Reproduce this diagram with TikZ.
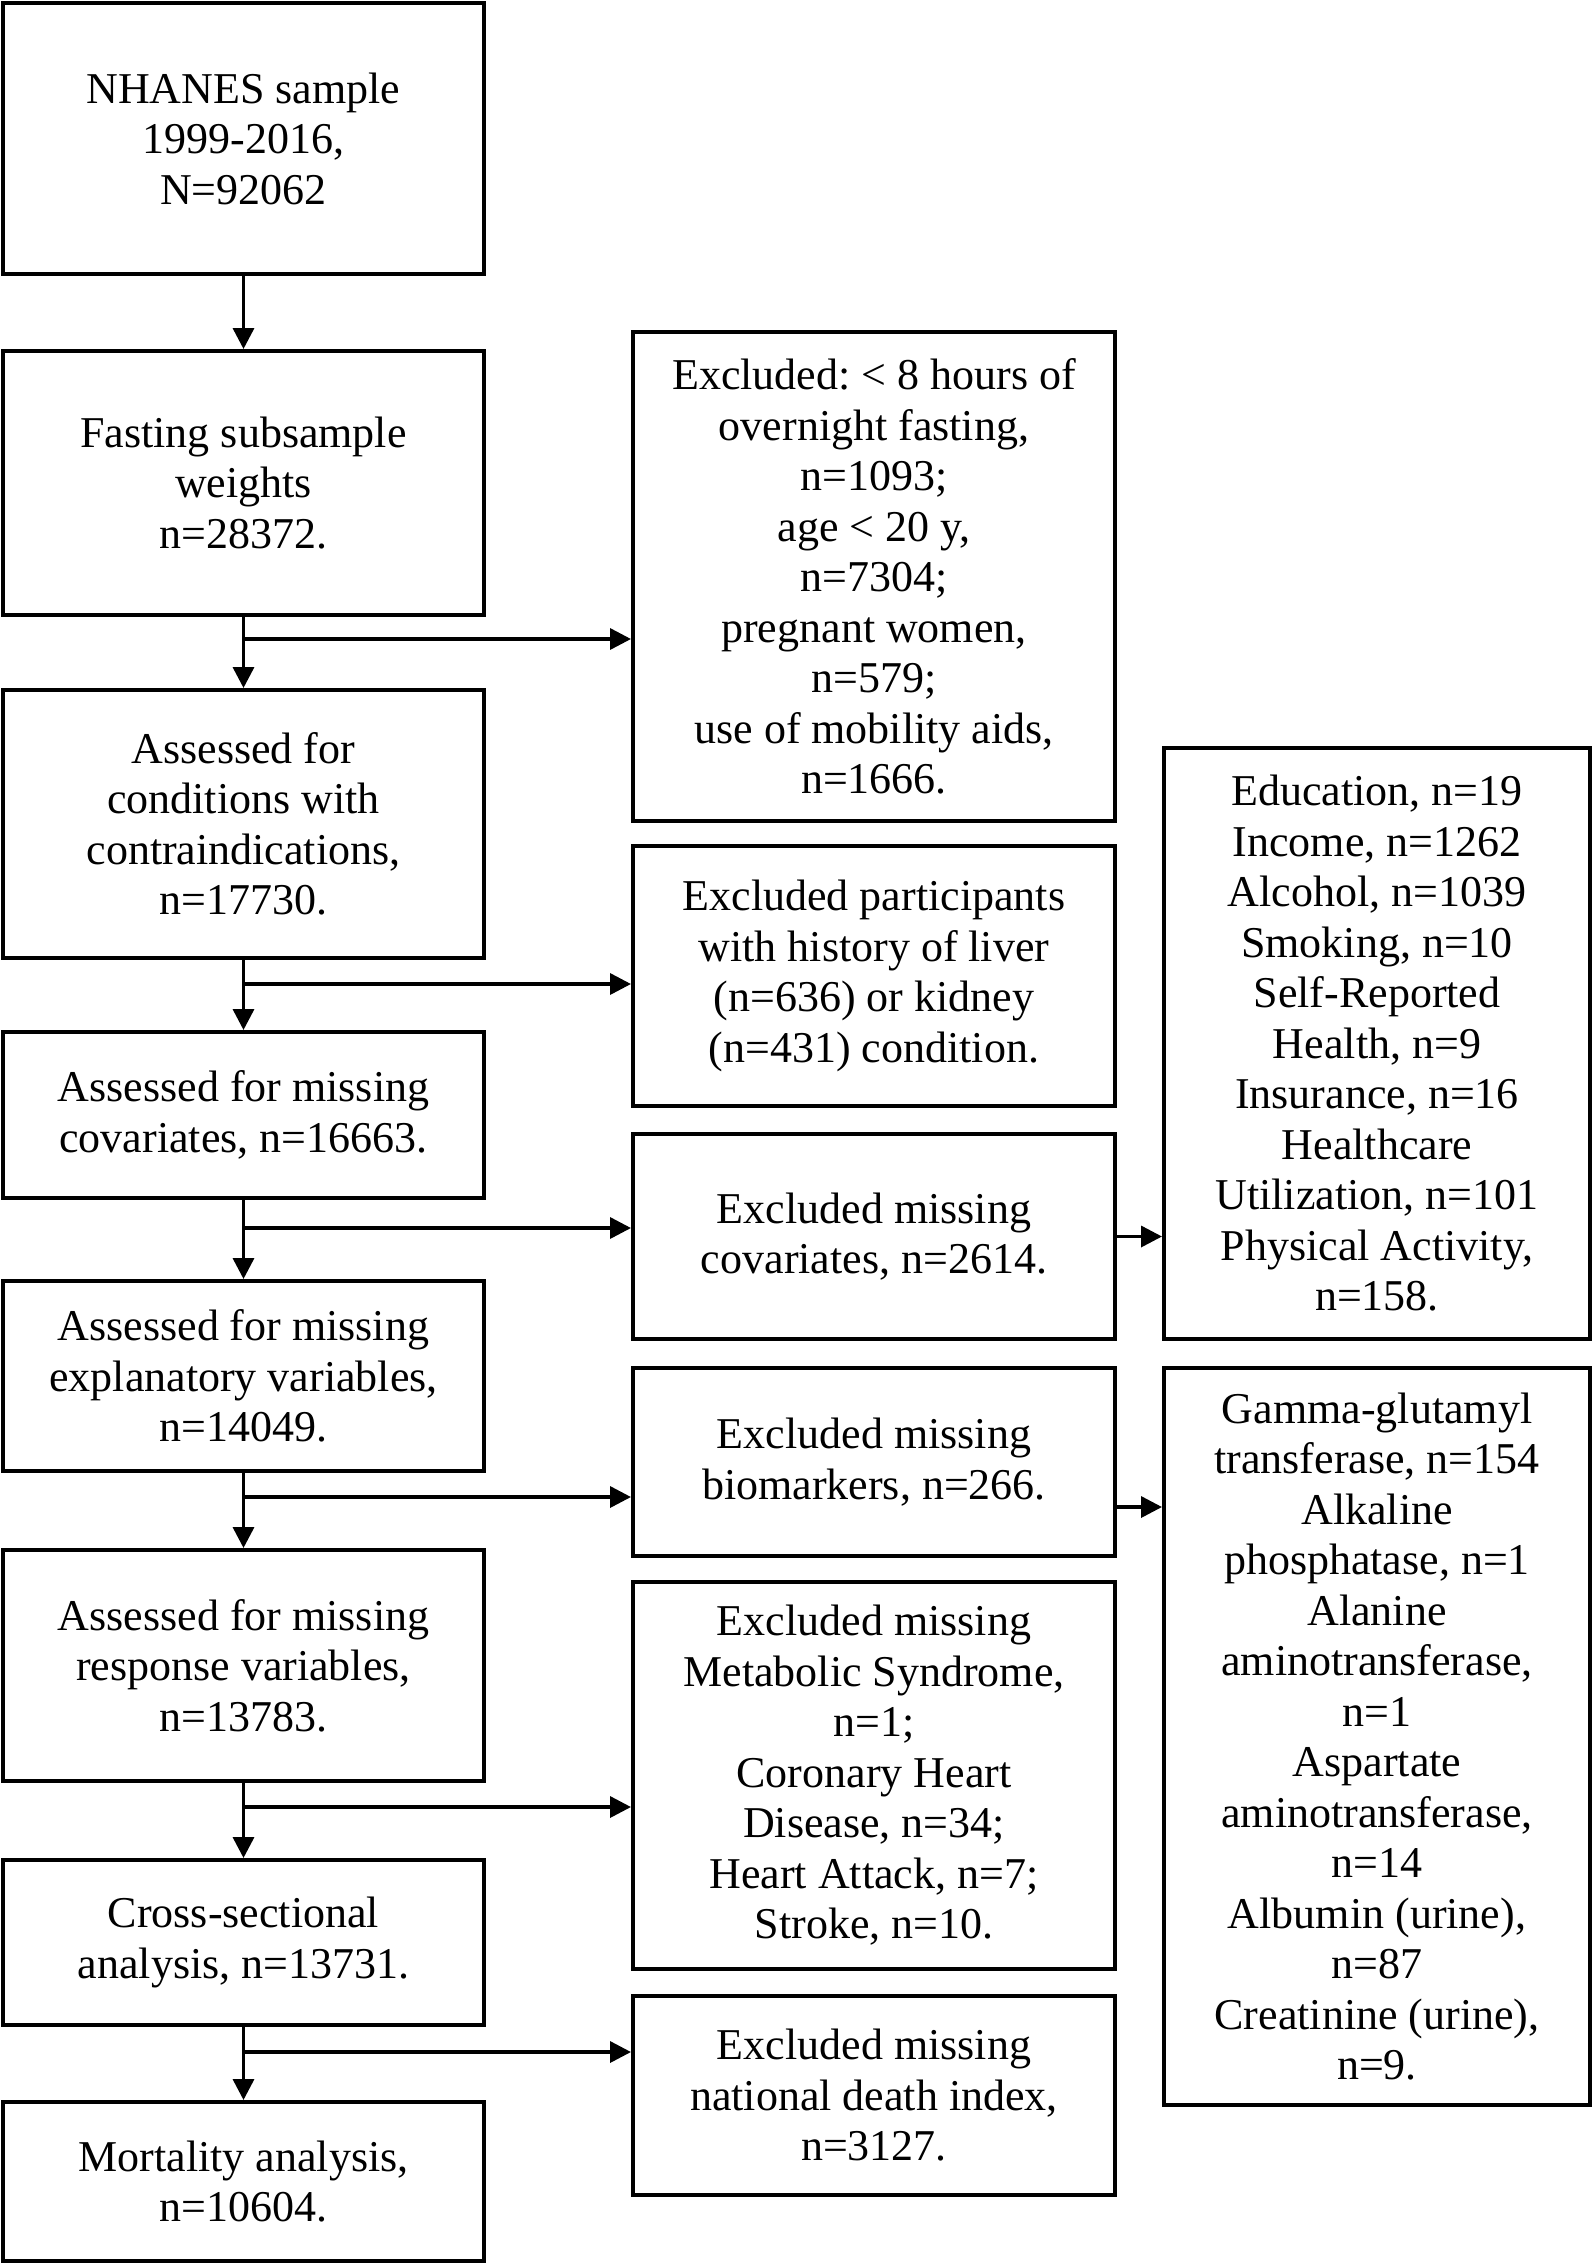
\documentclass[tikz,border=0pt]{standalone}
\usepackage{fontspec}
\setmainfont{Liberation Serif}
\usetikzlibrary{arrows.meta}
\frenchspacing
\begin{document}
\begin{tikzpicture}[x=1pt,y=-1pt,
  box/.style={draw, line width=4pt, align=center, inner sep=0pt,
    font=\fontsize{44}{50.5}\selectfont},
  lbox/.style={box, minimum width=481pt},
  mbox/.style={box, minimum width=482pt},
  rbox/.style={box, minimum width=426pt},
  arr/.style={line width=3.5pt, -{Triangle[length=21pt,width=21pt]}}]
\useasboundingbox (0,0) rectangle (1594,2264);
% left column
\node[lbox, minimum height=271pt] (L1) at (243.5,138.5) {NHANES sample\\1999-2016,\\N=92062};
\node[lbox, minimum height=264pt] (L2) at (243.5,483) {Fasting subsample\\weights\\n=28372.};
\node[lbox, minimum height=268pt] (L3) at (243.5,824) {Assessed for\\conditions with\\contraindications,\\n=17730.};
\node[lbox, minimum height=166pt] (L4) at (243.5,1115) {Assessed for missing\\covariates, n=16663.};
\node[lbox, minimum height=190pt] (L5) at (243.5,1376) {Assessed for missing\\explanatory variables,\\n=14049.};
\node[lbox, minimum height=231pt] (L6) at (243.5,1665.5) {Assessed for missing\\response variables,\\n=13783.};
\node[lbox, minimum height=165pt] (L7) at (243.5,1942.5) {Cross-sectional\\analysis, n=13731.};
\node[lbox, minimum height=159pt] (L8) at (243.5,2181.5) {Mortality analysis,\\n=10604.};
% middle column
\node[mbox, minimum height=489pt] (A) at (874,576.5) {Excluded: < 8 hours of\\overnight fasting,\\n=1093;\\age < 20 y,\\n=7304;\\pregnant women,\\n=579;\\use of mobility aids,\\n=1666.};
\node[mbox, minimum height=260pt] (B) at (874,976) {Excluded participants\\with history of liver\\(n=636) or kidney\\(n=431) condition.};
\node[mbox, minimum height=205pt] (C) at (874,1236.5) {Excluded missing\\covariates, n=2614.};
\node[mbox, minimum height=188pt] (D) at (874,1462) {Excluded missing\\biomarkers, n=266.};
\node[mbox, minimum height=387pt] (E) at (874,1775.5) {Excluded missing\\Metabolic Syndrome,\\n=1;\\Coronary Heart\\Disease, n=34;\\Heart Attack, n=7;\\Stroke, n=10.};
\node[mbox, minimum height=199pt] (F) at (874,2095.5) {Excluded missing\\national death index,\\n=3127.};
% right column
\node[rbox, minimum height=591pt] (R1) at (1377,1043.5) {Education, n=19\\Income, n=1262\\Alcohol, n=1039\\Smoking, n=10\\Self-Reported\\Health, n=9\\Insurance, n=16\\Healthcare\\Utilization, n=101\\Physical Activity,\\n=158.};
\node[rbox, minimum height=737pt] (R2) at (1377,1736.5) {Gamma-glutamyl\\transferase, n=154\\Alkaline\\phosphatase, n=1\\Alanine\\aminotransferase,\\n=1\\Aspartate\\aminotransferase,\\n=14\\Albumin (urine),\\n=87\\Creatinine (urine),\\n=9.};
% vertical flow
\draw[arr] (L1) -- (L2);
\draw[arr] (L2) -- (L3);
\draw[arr] (L3) -- (L4);
\draw[arr] (L4) -- (L5);
\draw[arr] (L5) -- (L6);
\draw[arr] (L6) -- (L7);
\draw[arr] (L7) -- (L8);
% branches
\coordinate (b1) at (243.5,639);
\coordinate (b2) at (243.5,984);
\coordinate (b3) at (243.5,1228);
\coordinate (b4) at (243.5,1497);
\coordinate (b5) at (243.5,1807);
\coordinate (b6) at (243.5,2052);
\draw[arr] (b1) -- (b1 -| A.west);
\draw[arr] (b2) -- (b2 -| B.west);
\draw[arr] (b3) -- (b3 -| C.west);
\draw[arr] (b4) -- (b4 -| D.west);
\draw[arr] (b5) -- (b5 -| E.west);
\draw[arr] (b6) -- (b6 -| F.west);
% to detail boxes
\coordinate (d2) at (0,1507);
\draw[arr] (C.east) -- (C.east -| R1.west);
\draw[arr] (D.east |- d2) -- (R2.west |- d2);
\end{tikzpicture}
\end{document}
